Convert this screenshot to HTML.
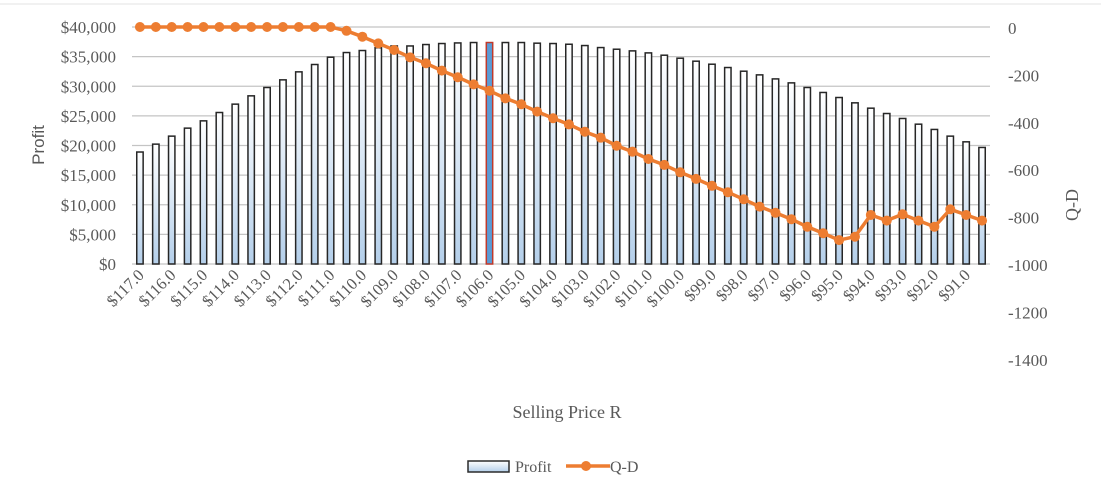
<!DOCTYPE html>
<html><head><meta charset="utf-8"><style>
html,body{margin:0;padding:0;background:#fff;}
svg{display:block;font-family:"Liberation Serif",serif;}
</style></head><body>
<svg id="chart" width="1101" height="498" viewBox="0 0 1101 498">
<defs>
<linearGradient id="barGrad" x1="0" y1="0" x2="0" y2="1">
<stop offset="0" stop-color="#ffffff"/><stop offset="1" stop-color="#b4cfea"/>
</linearGradient>
</defs>
<line x1="0" y1="4" x2="1101" y2="4" stroke="#e3e3e3" stroke-width="1"/>
<g id="grid"></g>
<g id="bars"></g>
<g id="line"></g>
<g id="leftAxis"></g>
<g id="rightAxis"></g>
<g id="xAxis"></g>
<text x="44" y="145" transform="rotate(-90 44 145)" text-anchor="middle" font-family="Liberation Sans, sans-serif" font-size="17" fill="#595959">Profit</text>
<text x="1078" y="205" transform="rotate(-90 1078 205)" text-anchor="middle" font-size="18" fill="#595959">Q-D</text>
<text x="567" y="418" text-anchor="middle" font-size="18" fill="#595959">Selling  Price  R</text>
<g>
<g>
<rect x="468" y="461" width="41" height="11" fill="url(#barGrad)" stroke="#2b2b2b" stroke-width="1.5"/>
<text x="515" y="472" font-size="16" fill="#595959">Profit</text>
</g>
<g>
<line x1="566" y1="466" x2="610" y2="466" stroke="#ED7D31" stroke-width="3.5"/>
<circle cx="586" cy="466" r="5" fill="#ED7D31"/>
<text x="610" y="472" font-size="16" fill="#595959">Q-D</text>
</g>
</g>
</svg>
<script>
const categories = [];
for (let i = 0; i < 54; i++) categories.push(117 - i * 0.5);
const profitValues = [18900,20230,21580,22930,24160,25570,26980,28380,29790,31080,32430,33670,34900,35690,36030,36500,36800,36800,37040,37210,37310,37380,37380,37380,37380,37270,37210,37090,36870,36530,36250,35970,35630,35240,34730,34230,33720,33160,32540,31920,31240,30570,29790,28950,28100,27200,26300,25400,24560,23600,22710,21580,20620,19670];
const qdValues = [0,0,0,0,0,0,0,0,0,0,0,0,0,-16,-41,-69,-97,-128,-153,-184,-212,-242,-269,-301,-326,-357,-385,-411,-442,-467,-501,-526,-557,-582,-613,-641,-670,-697,-727,-758,-784,-811,-843,-870,-899,-885,-793,-817,-790,-817,-843,-769,-793,-817];
const leftTicks = [0,5000,10000,15000,20000,25000,30000,35000,40000];
const leftTickLabels = ["$0","$5,000","$10,000","$15,000","$20,000","$25,000","$30,000","$35,000","$40,000"];
const rightTicks = [0,-200,-400,-600,-800,-1000,-1200,-1400];
const highlightIndex = 22;

const NS = "http://www.w3.org/2000/svg";
const X0 = 132, X1 = 990, YTOP = 27, YBOT = 264;
const band = (X1 - X0) / categories.length;
const xPos = i => X0 + band * (i + 0.5);
const yLeft = v => YBOT - (v / 40000) * (YBOT - YTOP);
const yRight = v => YTOP + (-v / 1000) * (YBOT - YTOP);
function mk(tag, attrs, parent) {
  const e = document.createElementNS(NS, tag);
  for (const k in attrs) e.setAttribute(k, attrs[k]);
  parent.appendChild(e);
  return e;
}
const grid = document.getElementById('grid');
leftTicks.forEach((t, i) => {
  const g = mk('line', {x1: X0, x2: X1, y1: yLeft(t), y2: yLeft(t), stroke: '#c4c4c4', 'stroke-width': 1.2}, grid);
  
  
});
const la = document.getElementById('leftAxis');
leftTicks.forEach((t, i) => {
  const e = mk('text', {x: 116, y: yLeft(t) + 6, 'text-anchor': 'end', 'font-size': 17, fill: '#595959'}, la);
  e.textContent = leftTickLabels[i];
  
  
});
const ra = document.getElementById('rightAxis');
rightTicks.forEach(t => {
  const e = mk('text', {x: 1008, y: yRight(t) + 7, 'text-anchor': 'start', 'font-size': 17, fill: '#595959'}, ra);
  e.textContent = String(t);
  
  
});
const bars = document.getElementById('bars');
profitValues.forEach((v, i) => {
  const hl = i === highlightIndex;
  const b = mk('rect', {x: xPos(i) - 3.2, y: yLeft(v), width: 6.4, height: YBOT - yLeft(v),
    fill: hl ? '#5b9bd5' : 'url(#barGrad)', stroke: hl ? '#c0392b' : '#262626', 'stroke-width': 1.5}, bars);
  
  
});
const lg = document.getElementById('line');
const pts = qdValues.map((v, i) => xPos(i).toFixed(1) + ',' + yRight(v).toFixed(1)).join(' ');
const pl = mk('polyline', {points: pts, fill: 'none', stroke: '#ED7D31', 'stroke-width': 3.5, 'stroke-linejoin': 'round'}, lg);


qdValues.forEach((v, i) => {
  const c = mk('circle', {cx: xPos(i), cy: yRight(v), r: 5, fill: '#ED7D31'}, lg);
  
  
});
const xa = document.getElementById('xAxis');
categories.forEach((c, i) => {
  if (i % 2 !== 0) return;
  const x = xPos(i) + 5, y = 276;
  const t = mk('text', {x: x, y: y, 'text-anchor': 'end', 'font-size': 16.5, fill: '#595959', transform: 'rotate(-45 ' + x + ' ' + y + ')'}, xa);
  t.textContent = '$' + c.toFixed(1);
  
  
});
</script>
</body></html>
